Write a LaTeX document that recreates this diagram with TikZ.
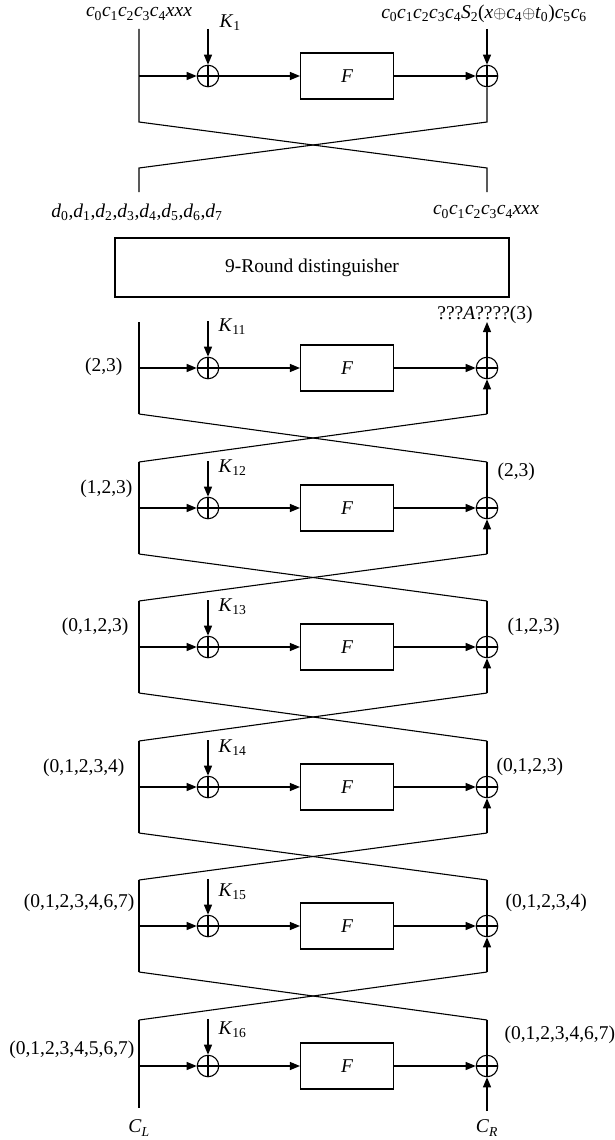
\documentclass[tikz,border=0pt]{standalone}
\usepackage{fontspec}
\setmainfont{Liberation Serif}
\usetikzlibrary{arrows.meta}
\newcommand\iv[2]{\textit{#1}\textsubscript{#2}}
\newcommand\ivi[2]{\textit{#1}\textsubscript{\textit{#2}}}
\newcommand\xop{\raisebox{0.5pt}{\scalebox{0.8}{$\oplus$}}}
\begin{document}
\begin{tikzpicture}[x=1pt,y=-1pt,
  line width=1.1pt,
  lbl/.style={font=\fontsize{19.5}{23}\selectfont, inner sep=0pt},
  arr/.style={-{Triangle[length=10pt,width=8pt]}},
  xor/.style={draw, circle, minimum size=21.5pt, inner sep=0pt,
    path picture={\draw (path picture bounding box.north)--(path picture bounding box.south)
      (path picture bounding box.west)--(path picture bounding box.east);}},
  fbox/.style={draw, minimum width=93pt, minimum height=46pt, inner sep=0pt,
    font=\fontsize{19.5}{23}\selectfont\itshape},
]
\useasboundingbox (0,0) rectangle (614,1140);
% ---------- top round ----------
\coordinate (tL) at (139,29);
\coordinate (tK) at (208,29);
\coordinate (tR) at (487,29);
\coordinate (tl) at (139,76);
\node[xor] (ta) at (208,76) {};
\node[fbox] (tf) at (347,76) {F};
\node[xor] (tb) at (487,76) {};
\coordinate (tca) at (139,122);
\coordinate (tcb) at (487,122);
\coordinate (tcc) at (487,168);
\coordinate (tcd) at (139,168);
\coordinate (teL) at (139,192);
\coordinate (teR) at (487,192);
\draw (tL) -- (tca) -- (tcc) -- (teR);
\draw (tb) -- (tcb) -- (tcd) -- (teL);
\draw[arr] (tl) -- (ta);
\draw[arr] (ta) -- (tf);
\draw[arr] (tf) -- (tb);
\draw[arr] (tK) -- (ta);
\draw[arr] (tR) -- (tb);
\node[lbl] (ttl) at (139,14) {\iv{c}{0}\iv{c}{1}\iv{c}{2}\iv{c}{3}\iv{c}{4}\textit{xxx}};
\node[lbl] (ttr) at (484,14) {\iv{c}{0}\iv{c}{1}\iv{c}{2}\iv{c}{3}\iv{c}{4}\iv{S}{2}(\textit{x}\xop\iv{c}{4}\xop\iv{t}{0})\iv{c}{5}\iv{c}{6}};
\node[lbl,anchor=west] (tk) at (219,23) {\iv{K}{1}};
\node[lbl] (tbl) at (137,212) {\iv{d}{0},\iv{d}{1},\iv{d}{2},\iv{d}{3},\iv{d}{4},\iv{d}{5},\iv{d}{6},\iv{d}{7}};
\node[lbl] (tbr) at (486,212) {\iv{c}{0}\iv{c}{1}\iv{c}{2}\iv{c}{3}\iv{c}{4}\textit{xxx}};
% ---------- distinguisher ----------
\node[draw, lbl, minimum width=394pt, minimum height=59pt] (dist) at (312,267.5) {9-Round distinguisher};
% ---------- last six rounds ----------
\foreach \i/\r/\k/\ky in {0/368/11/327, 1/508/12/468, 2/647/13/607, 3/787/14/748, 4/926/15/892, 5/1066/16/1030}{
  \node[xor] (a\i) at (208,\r) {};
  \node[fbox] (f\i) at (347,\r) {F};
  \node[xor] (b\i) at (487,\r) {};
  \coordinate (l\i) at (139,\r);
  \coordinate (k\i) at (208,\r-47);
  \coordinate (u\i) at (139,\r-46);
  \coordinate (v\i) at (487,\r-46);
  \coordinate (p\i) at (139,\r+46);
  \coordinate (q\i) at (487,\r+46);
  \draw[arr] (l\i) -- (a\i);
  \draw[arr] (a\i) -- (f\i);
  \draw[arr] (f\i) -- (b\i);
  \draw[arr] (k\i) -- (a\i);
  \node[lbl,anchor=west] (kl\i) at (218,\ky) {\iv{K}{\k}};
}
\coordinate (eL) at (139,1108);
\coordinate (eR) at (487,1111);
% left lines
\foreach \i in {0,...,4}{ \draw (u\i) -- (p\i); \draw[arr] (q\i) -- (b\i); }
\draw (u5) -- (eL);
\draw[arr] (eR) -- (b5);
% right lines above xor
\foreach \i in {1,...,5}{ \draw (v\i) -- (b\i); }
\draw[arr] (b0) -- (v0);
% crossings
\foreach \i/\j in {0/1,1/2,2/3,3/4,4/5}{
  \draw (p\i) -- (v\j);
  \draw (q\i) -- (u\j);
}
% labels
\node[lbl,anchor=east] (ll0) at (123,367) {(2,3)};
\node[lbl,anchor=east] (ll1) at (133,489) {(1,2,3)};
\node[lbl,anchor=east] (ll2) at (129,627) {(0,1,2,3)};
\node[lbl,anchor=east] (ll3) at (125,768) {(0,1,2,3,4)};
\node[lbl,anchor=east] (ll4) at (135,903) {(0,1,2,3,4,6,7)};
\node[lbl,anchor=east] (ll5) at (135,1050) {(0,1,2,3,4,5,6,7)};
\node[lbl] (rl0) at (485,315) {???\textit{A}????(3)};
\node[lbl,anchor=west] (rl1) at (497,472) {(2,3)};
\node[lbl,anchor=west] (rl2) at (507,627) {(1,2,3)};
\node[lbl,anchor=west] (rl3) at (496,767) {(0,1,2,3)};
\node[lbl,anchor=west] (rl4) at (505,903) {(0,1,2,3,4)};
\node[lbl,anchor=west] (rl5) at (504,1035) {(0,1,2,3,4,6,7)};
\node[lbl] (cl) at (139,1128) {\ivi{C}{L}};
\node[lbl] (cr) at (487,1128) {\ivi{C}{R}};
\end{tikzpicture}
\end{document}
